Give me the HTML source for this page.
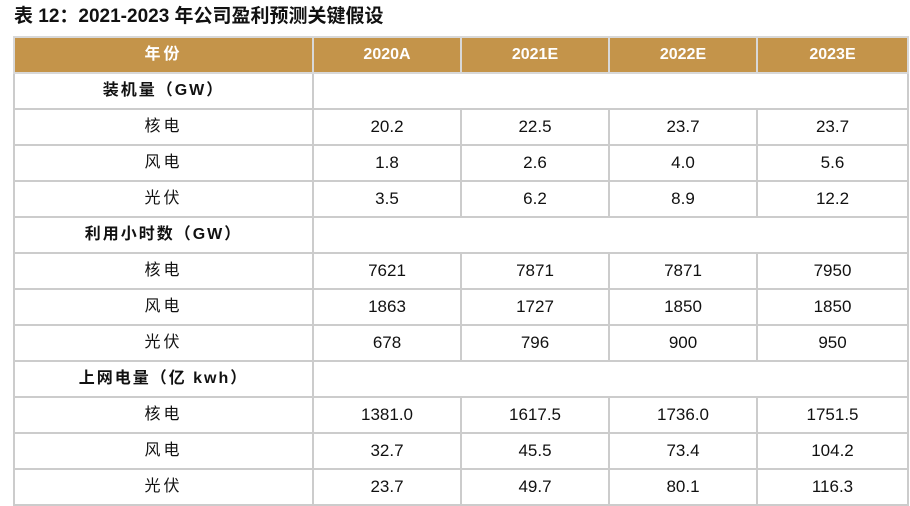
<!DOCTYPE html>
<html><head><meta charset="utf-8"><style>
body{margin:0;width:910px;height:505px;background:#fff;overflow:hidden;font-family:"Liberation Sans","Noto Sans CJK SC",sans-serif;}
.title{position:absolute;left:14px;top:5px;font-size:19px;line-height:24px;font-weight:bold;color:#111;white-space:nowrap;}
table{position:absolute;left:13px;top:36px;border-collapse:collapse;table-layout:fixed;width:894px;}
tr{height:36px;}
td,th{border:2px solid #cccccc;padding:0;text-align:center;vertical-align:middle;font-size:17px;line-height:20px;color:#111;}
th{background:#c4944a;color:#fff;font-weight:bold;font-size:16px;border-color:#d8d8d8;}
.sec{font-weight:bold;letter-spacing:2px;font-size:16px;}
.cn{letter-spacing:3px;font-size:16px;}
</style></head><body>
<div class="title">表 12：2021-2023 年公司盈利预测关键假设</div>
<table>
<colgroup><col style="width:299px"><col style="width:148px"><col style="width:148px"><col style="width:148px"><col style="width:151px"></colgroup>
<tr><th class="cn">年份</th><th>2020A</th><th>2021E</th><th>2022E</th><th>2023E</th></tr>
<tr><td class="sec">装机量（GW）</td><td colspan="4"></td></tr>
<tr><td class="cn">核电</td><td>20.2</td><td>22.5</td><td>23.7</td><td>23.7</td></tr>
<tr><td class="cn">风电</td><td>1.8</td><td>2.6</td><td>4.0</td><td>5.6</td></tr>
<tr><td class="cn">光伏</td><td>3.5</td><td>6.2</td><td>8.9</td><td>12.2</td></tr>
<tr><td class="sec">利用小时数（GW）</td><td colspan="4"></td></tr>
<tr><td class="cn">核电</td><td>7621</td><td>7871</td><td>7871</td><td>7950</td></tr>
<tr><td class="cn">风电</td><td>1863</td><td>1727</td><td>1850</td><td>1850</td></tr>
<tr><td class="cn">光伏</td><td>678</td><td>796</td><td>900</td><td>950</td></tr>
<tr><td class="sec">上网电量（亿 kwh）</td><td colspan="4"></td></tr>
<tr><td class="cn">核电</td><td>1381.0</td><td>1617.5</td><td>1736.0</td><td>1751.5</td></tr>
<tr><td class="cn">风电</td><td>32.7</td><td>45.5</td><td>73.4</td><td>104.2</td></tr>
<tr><td class="cn">光伏</td><td>23.7</td><td>49.7</td><td>80.1</td><td>116.3</td></tr>
</table>
</body></html>
